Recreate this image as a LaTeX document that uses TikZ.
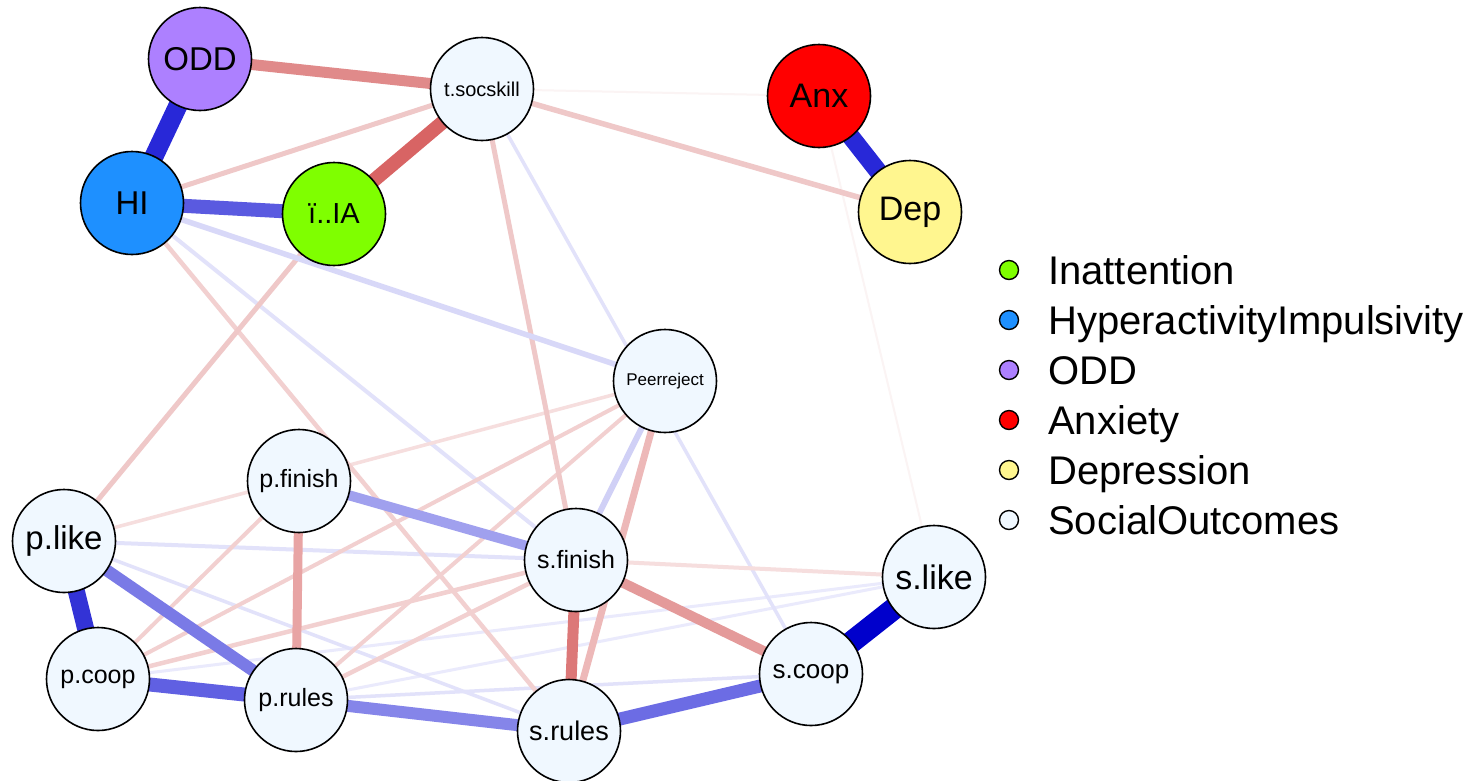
\documentclass[tikz,border=0pt]{standalone}
\usepackage{fontspec}
\setmainfont{Liberation Sans}
\usetikzlibrary{backgrounds}

% node fills
\definecolor{cODD}{RGB}{173,128,255}
\definecolor{cHI}{RGB}{30,144,255}
\definecolor{cIA}{RGB}{127,255,0}
\definecolor{cAnx}{RGB}{255,0,0}
\definecolor{cDep}{RGB}{255,246,143}
\definecolor{cSoc}{RGB}{240,248,255}
% positive edges, strong to weak
\definecolor{bA}{HTML}{0000CC}
\definecolor{bB}{HTML}{2828D8}
\definecolor{bC}{HTML}{3333D6}
\definecolor{bD}{HTML}{5A5AE0}
\definecolor{bE}{HTML}{6060E2}
\definecolor{bF}{HTML}{6C6CE4}
\definecolor{bG}{HTML}{7A7AE6}
\definecolor{bH}{HTML}{8585E9}
\definecolor{bI}{HTML}{A0A0EE}
\definecolor{bJ}{HTML}{D0D0F6}
\definecolor{bK}{HTML}{D8D8F8}
\definecolor{bL}{HTML}{E2E2FA}
\definecolor{bM}{HTML}{EAEAFC}
% negative edges, strong to weak
\definecolor{rA}{HTML}{D86464}
\definecolor{rB}{HTML}{DC7878}
\definecolor{rC}{HTML}{E08A8A}
\definecolor{rD}{HTML}{E49A9A}
\definecolor{rE}{HTML}{E8A4A4}
\definecolor{rF}{HTML}{EDB8B8}
\definecolor{rG}{HTML}{EFC8C8}
\definecolor{rH}{HTML}{F2D0D0}
\definecolor{rI}{HTML}{F6DEDE}
\definecolor{rJ}{HTML}{FBF4F4}

\begin{document}
\begin{tikzpicture}[x=1pt,y=-1pt,
  var/.style={circle,draw=black,line width=1.6pt,minimum size=103pt,inner sep=0pt,text=black},
  soc/.style={var,fill=cSoc},
  fs/.style={font=\fontsize{#1}{#1}\selectfont},
  lgdot/.style={circle,draw=black,line width=1.4pt,minimum size=19pt,inner sep=0pt},
  lgtext/.style={anchor=base west,inner sep=0pt,font=\fontsize{40}{48}\selectfont},
  edge/.style={line cap=butt}]
\useasboundingbox (0,0) rectangle (1477,780);

% variables
\node[var,fill=cODD,fs=33] (ODD) at (200,59) {ODD};
\node[soc,fs=20] (tsoc) at (482,89) {t.socskill};
\node[var,fill=cAnx,fs=34] (Anx) at (819,96) {Anx};
\node[var,fill=cHI,fs=33] (HI) at (132,203) {HI};
\node[var,fill=cIA,fs=29] (IA) at (334,214) {ï..IA};
\node[var,fill=cDep,fs=34] (Dep) at (910,212) {Dep};
\node[soc,fs=17] (peer) at (665,381) {Peerreject};
\node[soc,fs=25] (pfin) at (299,481) {p.finish};
\node[soc,fs=33] (plike) at (64,541) {p.like};
\node[soc,fs=25] (sfin) at (576,560) {s.finish};
\node[soc,fs=34] (slike) at (934,577) {s.like};
\node[soc,fs=25] (pcoop) at (98,679) {p.coop};
\node[soc,fs=25] (prules) at (296,700) {p.rules};
\node[soc,fs=27] (srules) at (569,731) {s.rules};
\node[soc,fs=26] (scoop) at (811,674) {s.coop};

% connections, weakest first
\begin{pgfonlayer}{background}
\fill[white] (0,0) rectangle (1477,780);
\draw[edge,line width=2pt,draw=rJ] (tsoc.center) -- (Anx.center);
\draw[edge,line width=2pt,draw=rJ] (Anx.center) -- (slike.center);
\draw[edge,line width=3pt,draw=bM] (pcoop.center) -- (slike.center);
\draw[edge,line width=3pt,draw=bM] (prules.center) -- (slike.center);
\draw[edge,line width=3.5pt,draw=bL] (prules.center) -- (scoop.center);
\draw[edge,line width=3.5pt,draw=bL] (tsoc.center) -- (scoop.center);
\draw[edge,line width=3.5pt,draw=bL] (plike.center) -- (srules.center);
\draw[edge,line width=4pt,draw=bL] (plike.center) -- (sfin.center);
\draw[edge,line width=4pt,draw=bL] (HI.center) -- (sfin.center);
\draw[edge,line width=3.5pt,draw=rI] (plike.center) -- (peer.center);
\draw[edge,line width=4pt,draw=rI] (sfin.center) -- (slike.center);
\draw[edge,line width=4pt,draw=rH] (peer.center) -- (pcoop.center);
\draw[edge,line width=4pt,draw=rH] (peer.center) -- (prules.center);
\draw[edge,line width=4pt,draw=rH] (pfin.center) -- (pcoop.center);
\draw[edge,line width=4.5pt,draw=rH] (pcoop.center) -- (sfin.center);
\draw[edge,line width=4.5pt,draw=rH] (prules.center) -- (sfin.center);
\draw[edge,line width=4.5pt,draw=rH] (HI.center) -- (srules.center);
\draw[edge,line width=5pt,draw=rG] (HI.center) -- (tsoc.center);
\draw[edge,line width=5pt,draw=rG] (tsoc.center) -- (sfin.center);
\draw[edge,line width=5pt,draw=rG] (IA.center) -- (plike.center);
\draw[edge,line width=5.5pt,draw=rG] (tsoc.center) -- (Dep.center);
\draw[edge,line width=5.5pt,draw=bK] (HI.center) -- (peer.center);
\draw[edge,line width=6pt,draw=bJ] (peer.center) -- (sfin.center);
\draw[edge,line width=7pt,draw=rF] (peer.center) -- (srules.center);
\draw[edge,line width=9pt,draw=rE] (pfin.center) -- (prules.center);
\draw[edge,line width=10pt,draw=bI] (pfin.center) -- (sfin.center);
\draw[edge,line width=10pt,draw=rD] (sfin.center) -- (scoop.center);
\draw[edge,line width=11pt,draw=rB] (sfin.center) -- (srules.center);
\draw[edge,line width=11pt,draw=rC] (ODD.center) -- (tsoc.center);
\draw[edge,line width=12pt,draw=bH] (prules.center) -- (srules.center);
\draw[edge,line width=12pt,draw=bG] (plike.center) -- (prules.center);
\draw[edge,line width=13pt,draw=bF] (srules.center) -- (scoop.center);
\draw[edge,line width=14pt,draw=bE] (pcoop.center) -- (prules.center);
\draw[edge,line width=14pt,draw=rA] (IA.center) -- (tsoc.center);
\draw[edge,line width=14pt,draw=bD] (HI.center) -- (IA.center);
\draw[edge,line width=17pt,draw=bC] (plike.center) -- (pcoop.center);
\draw[edge,line width=18pt,draw=bB] (Anx.center) -- (Dep.center);
\draw[edge,line width=19pt,draw=bB] (ODD.center) -- (HI.center);
\draw[edge,line width=22pt,draw=bA] (slike.center) -- (scoop.center);
\end{pgfonlayer}

% legend
\node[lgdot,fill=cIA]  (k1) at (1009,270) {};
\node[lgdot,fill=cHI]  (k2) at (1009,320) {};
\node[lgdot,fill=cODD] (k3) at (1009,370) {};
\node[lgdot,fill=cAnx] (k4) at (1009,420) {};
\node[lgdot,fill=cDep] (k5) at (1009,470) {};
\node[lgdot,fill=cSoc] (k6) at (1009,520) {};
\node[lgtext] (t1) at (1048,284) {Inattention};
\node[lgtext] (t2) at (1048,334) {HyperactivityImpulsivity};
\node[lgtext] (t3) at (1048,384) {ODD};
\node[lgtext] (t4) at (1048,434) {Anxiety};
\node[lgtext] (t5) at (1048,484) {Depression};
\node[lgtext] (t6) at (1048,534) {SocialOutcomes};
\end{tikzpicture}
\end{document}
